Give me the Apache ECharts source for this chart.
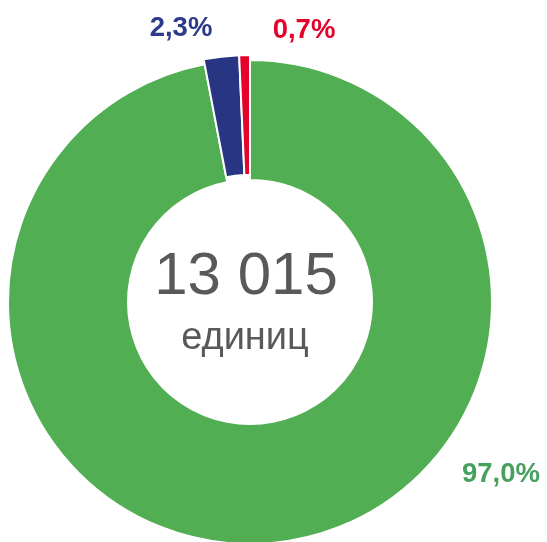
<!DOCTYPE html>
<html>
<head>
<meta charset="utf-8">
<script src="https://cdn.jsdelivr.net/npm/echarts@6/dist/echarts.min.js"></script>
<style>
  html, body { margin: 0; padding: 0; background: #fff; }
  #chart { width: 547px; height: 542px; }
</style>
</head>
<body>
<div id="chart"></div>
<script>
// данные
const categories = ['Группа 1', 'Группа 2', 'Группа 3']
const shares = [97.0, 2.3, 0.7]
const colors = ['#52AE53', '#283583', '#E4032B']
const labelColors = ['#47A05E', '#2B3A8B', '#E4032B']
const totalText = '13 015'
const unitText = 'единиц'

// где стоят подписи процентов
const labelPos = [[501, 474], [181, 28], [304, 30]]

const chart = echarts.init(document.getElementById('chart'))

const fmt = v => v.toFixed(1).replace('.', ',') + '%'

// зелёный сектор — обычное кольцо, синий и красный чуть выдвинуты наружу
const makeData = (showIdx) => categories.map((name, i) => ({
  name,
  value: shares[i],
  itemStyle: showIdx.includes(i)
    ? { color: colors[i], borderColor: '#fff', borderWidth: 2 }
    : { color: 'transparent', borderWidth: 0 },
  label: showIdx.includes(i)
    ? { show: true, color: labelColors[i] }
    : { show: false }
}))

const baseSeries = {
  type: 'pie',
  center: [250, 302],
  startAngle: 90,
  clockwise: true,
  silent: true,
  animation: false,
  labelLine: { show: false },
  label: {
    position: 'outside',
    formatter: p => fmt(p.value),
    fontFamily: 'Liberation Sans, Arial, sans-serif',
    fontWeight: 'bold',
    fontSize: 27.5
  },
  labelLayout: p => ({
    x: labelPos[p.dataIndex][0],
    y: labelPos[p.dataIndex][1],
    align: 'center',
    verticalAlign: 'middle'
  })
}

chart.setOption({
  backgroundColor: '#fff',
  series: [
    Object.assign({}, baseSeries, {
      radius: [122, 242],
      data: makeData([0])
    }),
    Object.assign({}, baseSeries, {
      radius: [127, 247],
      data: makeData([1, 2])
    })
  ],
  graphic: [
    {
      type: 'text',
      style: {
        text: totalText,
        x: 246, y: 277,
        align: 'center', verticalAlign: 'middle',
        fontFamily: 'Liberation Sans, Arial, sans-serif',
        fontSize: 60,
        fill: '#595959'
      }
    },
    {
      type: 'text',
      style: {
        text: unitText,
        x: 245, y: 339,
        align: 'center', verticalAlign: 'middle',
        fontFamily: 'Liberation Sans, Arial, sans-serif',
        fontSize: 38,
        fill: '#595959'
      }
    }
  ]
})
</script>
</body>
</html>
